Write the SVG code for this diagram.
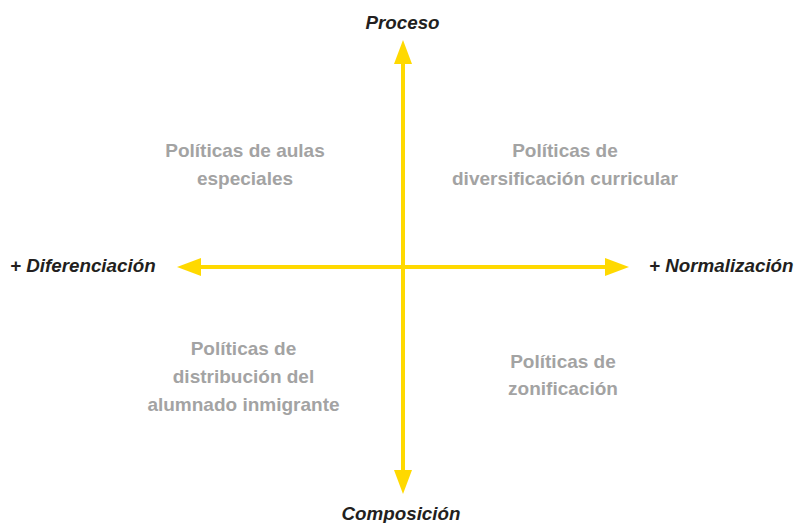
<svg xmlns="http://www.w3.org/2000/svg" width="796" height="523" viewBox="0 0 796 523">
<defs>
<style>
.axis{stroke:#FFD900;stroke-width:4;fill:none}
.lbl{font-family:"Liberation Sans",Arial,sans-serif;font-weight:bold;font-style:italic;font-size:18.8px;fill:#231f20}
.q{font-family:"Liberation Sans",Arial,sans-serif;font-weight:bold;font-size:19px;fill:#a3a3a3;text-anchor:middle}
</style>
<marker id="ah" viewBox="0 0 24 18" refX="0" refY="9" markerWidth="24" markerHeight="18" markerUnits="userSpaceOnUse" orient="auto-start-reverse">
<path d="M0,0 L24,9 L0,18 z" fill="#FFD900"/>
</marker>
</defs>
<rect width="796" height="523" fill="#ffffff"/>
<g id="connectors">
<line class="axis" x1="403" y1="64" x2="403" y2="470" marker-start="url(#ah)" marker-end="url(#ah)"/>
<line class="axis" x1="201" y1="267" x2="605" y2="267" marker-start="url(#ah)" marker-end="url(#ah)"/>
</g>
<g id="proceso"><text class="lbl" x="402.5" y="29" text-anchor="middle">Proceso</text></g>
<g id="composicion"><text class="lbl" x="401" y="520" text-anchor="middle">Composición</text></g>
<g id="diferenciacion"><text class="lbl" x="10" y="272">+ Diferenciación</text></g>
<g id="normalizacion"><text class="lbl" x="649" y="272">+ Normalización</text></g>
<g id="q-aulas"><text class="q" x="245" y="157">Políticas de aulas</text><text class="q" x="245" y="185">especiales</text></g>
<g id="q-diversificacion"><text class="q" x="565" y="157">Políticas de</text><text class="q" x="565" y="185">diversificación curricular</text></g>
<g id="q-distribucion"><text class="q" x="243.5" y="355">Políticas de</text><text class="q" x="243.5" y="383">distribución del</text><text class="q" x="243.5" y="411">alumnado inmigrante</text></g>
<g id="q-zonificacion"><text class="q" x="563" y="368">Políticas de</text><text class="q" x="563" y="395">zonificación</text></g>
</svg>
